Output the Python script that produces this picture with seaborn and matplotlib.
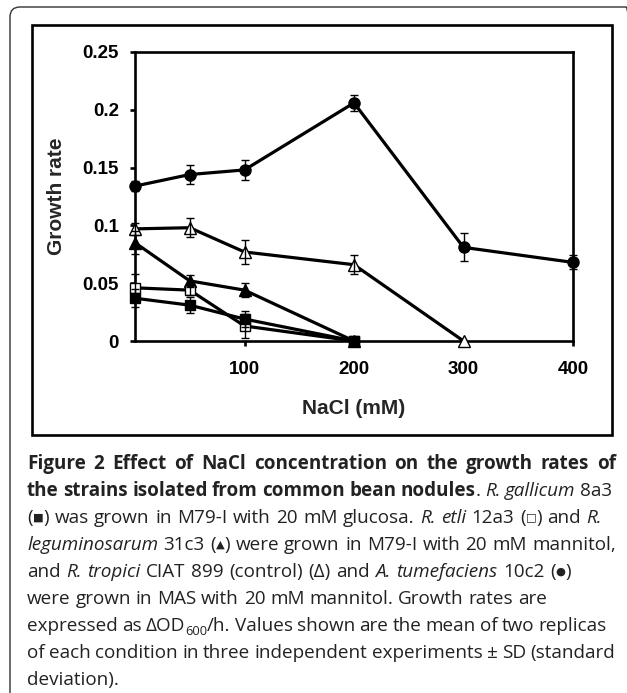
import matplotlib
matplotlib.use('Agg')
import numpy as np
import pandas as pd
import seaborn as sns
import matplotlib.pyplot as plt
from matplotlib.patches import Rectangle, FancyBboxPatch
from matplotlib.transforms import IdentityTransform
from matplotlib.ticker import FuncFormatter

# NaCl concentrations (mM)
nacl_mM = [0, 50, 100, 200, 300, 400]

# growth rates (dOD600/h) and SD
tumefaciens = [0.134, 0.144, 0.148, 0.206, 0.081, 0.068]
tumefaciens_sd = [0.004, 0.008, 0.009, 0.007, 0.012, 0.006]
tropici = [0.097, 0.098, 0.077, 0.066, 0.0]
tropici_sd = [0.005, 0.008, 0.010, 0.008, 0.0]
leguminosarum = [0.085, 0.052, 0.044, 0.0]
leguminosarum_sd = [0.010, 0.005, 0.006, 0.0]
etli = [0.046, 0.044, 0.013, 0.0]
etli_sd = [0.012, 0.004, 0.010, 0.0]
gallicum = [0.037, 0.031, 0.019, 0.0]
gallicum_sd = [0.008, 0.007, 0.007, 0.0]

x_ticks = [100, 200, 300, 400]
y_ticks = [0, 0.05, 0.1, 0.15, 0.2, 0.25]

caption_lines = [
    [("Figure 2 Effect of NaCl concentration on the growth rates of", "b")],
    [("the strains isolated from common bean nodules", "b"), (". ", "n"),
     ("R. gallicum", "i"), (" 8a3", "n")],
    [("(", "n"), ("\u25a0", "sym"), (") was grown in M79-I with 20 mM glucosa. ", "n"),
     ("R. etli", "i"), (" 12a3 (", "n"), ("\u25a1", "sym"), (") and ", "n"), ("R.", "i")],
    [("leguminosarum", "i"), (" 31c3 (", "n"), ("\u25b2", "sym"),
     (") were grown in M79-I with 20 mM mannitol,", "n")],
    [("and ", "n"), ("R. tropici", "i"), (" CIAT 899 (control) (\u0394) and ", "n"),
     ("A. tumefaciens", "i"), (" 10c2 (", "n"), ("\u25cf", "sym"), (")", "n")],
    [("were grown in MAS with 20 mM mannitol. Growth rates are", "n")],
    [("expressed as \u0394OD", "n"), ("600", "sub"),
     ("/h. Values shown are the mean of two replicas", "n")],
    [("of each condition in three independent experiments \u00b1 SD (standard", "n")],
    [("deviation).", "n")],
]
# right edge of each caption line in the reference (pixels)
caption_right = [616, 612, 602, 616, 571, 547, 607, 615, None]

W, H = 627, 693


def fx(px):
    return px / W


def fy(py):
    return 1 - py / H


def build_df():
    rows = []
    series = [
        ('A. tumefaciens', tumefaciens, tumefaciens_sd),
        ('R. tropici', tropici, tropici_sd),
        ('R. leguminosarum', leguminosarum, leguminosarum_sd),
        ('R. etli', etli, etli_sd),
        ('R. gallicum', gallicum, gallicum_sd),
    ]
    for name, vals, sds in series:
        for x, v, s in zip(nacl_mM, vals, sds):
            rows.append({'strain': name, 'nacl': x, 'rate': v, 'sd': s})
    return pd.DataFrame(rows)


df = build_df()

sns.set_theme(style='ticks')
plt.rcParams['font.family'] = ['Liberation Sans', 'DejaVu Sans']

fig = plt.figure(figsize=(W / 100, H / 100), dpi=100)
ax = fig.add_axes([fx(135), fy(341), fx(573) - fx(135), fy(52) - fy(341)])

styles = {
    'A. tumefaciens': dict(marker='o', mfc='black', ms=8),
    'R. tropici': dict(marker='^', mfc='white', ms=8.5),
    'R. leguminosarum': dict(marker='^', mfc='black', ms=8.5),
    'R. etli': dict(marker='s', mfc='white', ms=7),
    'R. gallicum': dict(marker='s', mfc='black', ms=7),
}

for name, st in styles.items():
    sub = df[df['strain'] == name]
    sns.lineplot(data=sub, x='nacl', y='rate', ax=ax, color='black', lw=2.3,
                 marker=st['marker'], markersize=st['ms'],
                 markerfacecolor=st['mfc'], markeredgecolor='black',
                 markeredgewidth=1.0, clip_on=False, zorder=3)
    err = sub[sub['sd'] > 0]
    ax.errorbar(err['nacl'], err['rate'], yerr=err['sd'], fmt='none',
                ecolor='black', elinewidth=1.0, capsize=2.8, capthick=1.0,
                clip_on=False, zorder=4)

ax.set_xlim(0, 400)
ax.set_ylim(0, 0.25)
ax.set_xticks(x_ticks)
ax.set_yticks(y_ticks)
ax.yaxis.set_major_formatter(FuncFormatter(lambda v, p: '%g' % v))
for sp in ax.spines.values():
    sp.set_visible(True)
    sp.set_color('black')
    sp.set_linewidth(1.9)
ax.tick_params(axis='both', direction='out', length=3.6, width=1.9,
               colors='black', labelsize=13.5)
ax.tick_params(axis='x', pad=11)
ax.tick_params(axis='y', pad=8)
for lab in ax.get_xticklabels() + ax.get_yticklabels():
    lab.set_fontweight('bold')
ax.set_xlabel('NaCl (mM)', fontsize=15, fontweight='bold', labelpad=15)
ax.set_ylabel('Growth rate', fontsize=15, fontweight='bold', labelpad=12)
ax.grid(False)

# frames: inner chart box and outer rounded panel
fig.patches.append(Rectangle((fx(32), fy(435)), fx(612) - fx(32), fy(25) - fy(435),
                             transform=fig.transFigure, fill=False,
                             edgecolor='black', linewidth=1.9))
fig.patches.append(FancyBboxPatch((10, H - 702), 626, 695,
                                  boxstyle='round,pad=0,rounding_size=10',
                                  transform=IdentityTransform(), fill=False,
                                  edgecolor='#333333', linewidth=1.0))

# caption with mixed bold / italic runs, set justified like the journal page
renderer = fig.canvas.get_renderer()
cap_family = ['Open Sans', 'DejaVu Sans']
cap_color = '#222222'


def run_props(style, fs):
    p = dict(family=cap_family, fontsize=fs, color=cap_color)
    if style == 'b':
        p['fontweight'] = 'bold'
    elif style == 'i':
        p['fontstyle'] = 'italic'
    elif style == 'sub':
        p['fontsize'] = fs * 0.68
    elif style == 'sym':
        p['fontsize'] = fs * 0.6
    return p


def text_width(s, props):
    t = fig.text(0, 0, s, **props)
    w = t.get_window_extent(renderer).width
    t.remove()
    return w


def adv_width(s, props):
    return text_width('|' + s + '|', props) - text_width('||', props)


def tokens(segs):
    out = []
    for s, st in segs:
        parts = s.split(' ')
        for j, p in enumerate(parts):
            if j > 0:
                out.append(None)
            if p:
                out.append((p, st))
    return out


def natural(toks, fs):
    sw = adv_width(' ', run_props('n', fs))
    w = 0
    for t in toks:
        w += sw if t is None else adv_width(t[0], run_props(t[1], fs))
    return w


fs = 10 * 521 / natural(tokens(caption_lines[5]), 10)
sw = adv_width(' ', run_props('n', fs))
x0, base0, step = 27, 469, 27
for i, segs in enumerate(caption_lines):
    toks = tokens(segs)
    n_sp = sum(1 for t in toks if t is None)
    gap = sw
    if caption_right[i] is not None and n_sp:
        gap = sw + (caption_right[i] - x0 - natural(toks, fs)) / n_sp
    x = x0
    base = base0 + i * step
    for t in toks:
        if t is None:
            x += gap
            continue
        word, st = t
        props = run_props(st, fs)
        yb = base
        if st == 'sub':
            yb = base + 0.22 * fs * 1.389
        elif st == 'sym':
            yb = base - 0.12 * fs * 1.389
        fig.text(fx(x), fy(yb), word, va='baseline', ha='left', **props)
        x += adv_width(word, props)

fig.savefig('out.png', dpi=100)
